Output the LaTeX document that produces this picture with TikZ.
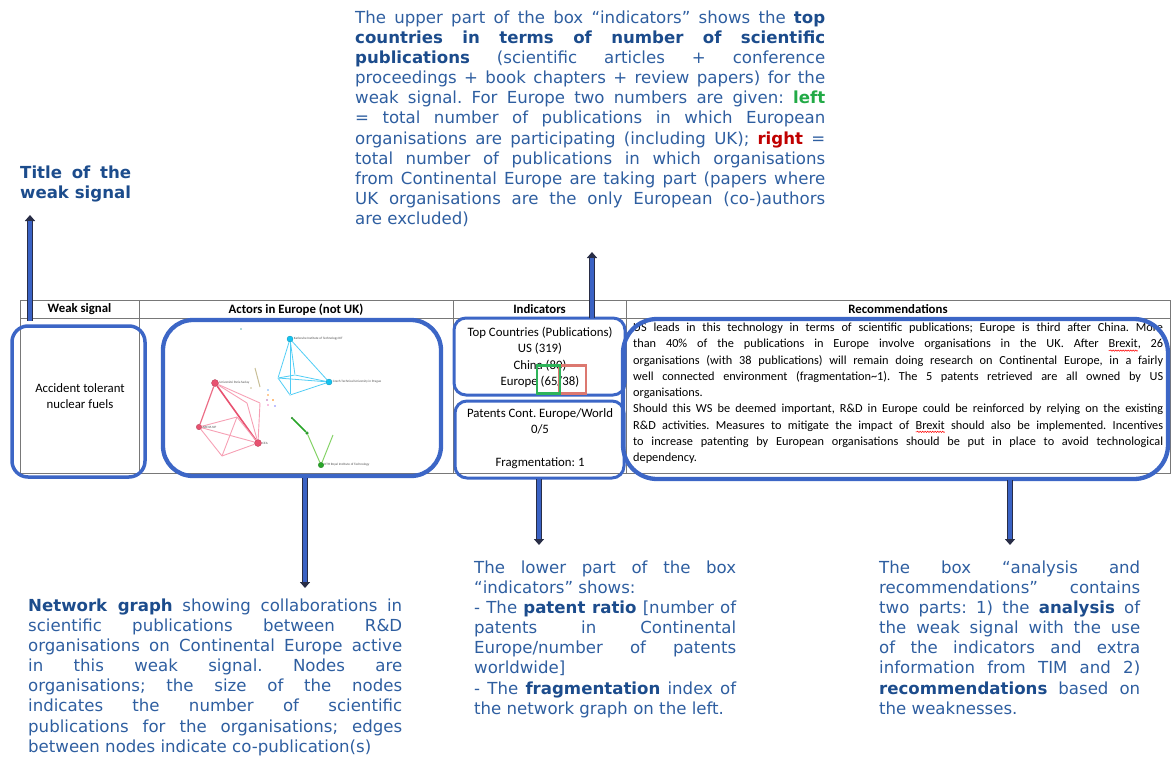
\documentclass[tikz,border=0pt]{standalone}
\usepackage{fontspec}
\setmainfont{DejaVu Sans}
\newfontfamily\tabfont{Carlito}
\usetikzlibrary{arrows.meta,decorations.pathmorphing}
\definecolor{anntext}{RGB}{46,94,160}
\definecolor{annbold}{RGB}{28,76,140}
\definecolor{boxblue}{RGB}{60,102,198}
\definecolor{arrblue}{RGB}{58,98,196}
\definecolor{arrdark}{RGB}{40,45,70}
\definecolor{leftgreen}{RGB}{34,170,70}
\definecolor{rightred}{RGB}{192,0,0}
\definecolor{tline}{RGB}{120,120,120}
\definecolor{netred}{RGB}{232,82,112}
\definecolor{netpink}{RGB}{246,160,180}
\definecolor{netcyan}{RGB}{20,195,240}
\definecolor{netcyanl}{RGB}{80,205,245}
\definecolor{netgreen}{RGB}{40,165,40}
\definecolor{netgreenl}{RGB}{130,210,100}
\definecolor{nettan}{RGB}{200,190,150}
\definecolor{eugreen}{RGB}{46,180,90}
\definecolor{eured}{RGB}{220,120,112}
\newcommand\hl[1]{\textbf{\color{annbold}#1}}
\newlength\wavelen
\newcommand\redwave[1]{\settowidth\wavelen{#1}#1\tikz[overlay,baseline=0pt]\draw[spell] (0pt,-2.6pt) -- ++(-\wavelen,0pt);}
\tikzset{
  ann/.style={anchor=north west, inner sep=0pt, align=justify, text=anntext,
    font=\fontsize{16.6}{20.15}\selectfont},
  tablebox/.style={draw=tline, line width=0.8pt},
  hdr/.style={inner sep=0pt, font=\tabfont\bfseries\fontsize{12.8}{15}\selectfont},
  cell/.style={inner sep=0pt, align=center, font=\tabfont\fontsize{12.8}{16.4}\selectfont},
  hbox/.style={draw=boxblue, line width=3.5pt, rounded corners=#1, inner sep=0pt},
  hbox/.default=14pt,
  eubox/.style={draw=#1, line width=2.6pt, inner sep=0pt, minimum height=28pt},
  arrowout/.style={draw=arrdark, line width=5.8pt, -{Triangle[length=6pt,width=10pt]}},
  arrowin/.style={draw=arrblue, line width=3.6pt, shorten >=6pt},
  nd/.style={circle, fill=#1, draw=#1!75!black, line width=0.3pt, inner sep=0pt},
  dot/.style={circle, fill=#1, inner sep=0pt, minimum size=1.6pt},
  lab/.style={anchor=west, inner sep=0.6pt, text=black!70, font=\tabfont\fontsize{3.3}{4}\selectfont},
  redE/.style={draw=netpink, line width=0.9pt},
  cyanE/.style={draw=netcyanl, line width=0.8pt},
  spell/.style={draw=red, line width=0.5pt, decorate, decoration={snake, amplitude=0.7pt, segment length=2.5pt}},
}
\newcommand\barrow[2]{\draw[arrowout] (#1) -- (#2); \draw[arrowin] (#1) -- (#2);}
\begin{document}
\frenchspacing
\begin{tikzpicture}[x=1pt,y=-1pt]
\useasboundingbox (0,0) rectangle (1171,758);

% ---------- table ----------
\draw[tablebox] (20,300) -- (1171,300);
\draw[tablebox] (20,318) -- (1171,318);
\draw[tablebox] (20,473) -- (1171,473);
\foreach \xx in {20,139,453,626,1170} \draw[tablebox] (\xx,300) -- (\xx,473);

\node[hdr] (h1) at (79.5,309.5) {Weak signal};
\node[hdr] (h2) at (296,309.5) {Actors in Europe (not UK)};
\node[hdr] (h3) at (539.5,309.5) {Indicators};
\node[hdr] (h4) at (898,309.5) {Recommendations};

\node[cell] (ws) at (80,396) {Accident tolerant\\nuclear fuels};

\node[cell] (ind1) at (540,357.5)
  {Top Countries (Publications)\\US (319)\\China (80)\\Europe (65/38)};
\node[cell] (ind2) at (540,438.5)
  {Patents Cont. Europe/World\\0/5\\ \\Fragmentation: 1};

\node[anchor=north west, inner sep=0pt, text width=530pt, align=justify,
      font=\tabfont\fontsize{12.3}{16.25}\selectfont] (rec) at (633,323)
{US leads in this technology in terms of scientific publications; Europe is third after China. More\linebreak
than 40\% of the publications in Europe involve organisations in the UK. After \redwave{Brexit}, 26\linebreak
organisations (with 38 publications) will remain doing research on Continental Europe, in a fairly\linebreak
well connected environment (fragmentation\textasciitilde 1). The 5 patents retrieved are all owned by US\linebreak
organisations.\\
Should this WS be deemed important, R\&D in Europe could be reinforced by relying on the existing\linebreak
R\&D activities. Measures to mitigate the impact of \redwave{Brexit} should also be implemented. Incentives\linebreak
to increase patenting by European organisations should be put in place to avoid technological\linebreak
dependency.};

% ---------- network graph ----------
\node[nd=netcyan, minimum size=6pt] (kit) at (290,339) {};
\node[nd=netcyan, minimum size=6pt] (cz) at (329,382) {};
\node[dot=netcyan, minimum size=1pt] (c1) at (278,378) {};
\node[dot=netcyan, minimum size=1pt] (c2) at (295,375) {};
\node[dot=netcyan, minimum size=1pt] (c3) at (290,395) {};
\draw[cyanE] (kit) -- (c1); \draw[cyanE] (kit) -- (c3); \draw[cyanE] (kit) -- (c2);
\draw[cyanE] (kit) -- (cz); \draw[cyanE] (c1) -- (cz); \draw[cyanE] (c1) -- (c2);
\draw[cyanE] (c1) -- (c3); \draw[cyanE] (c2) -- (cz); \draw[cyanE] (c3) -- (cz);
\node[lab] (kitl) at (kit.east) {Karlsruhe Institute of Technology KIT};
\node[lab] (czl) at (cz.east) {Czech Technical University in Prague};

\node[nd=netred, minimum size=7pt] (ps) at (215,383) {};
\node[nd=netred, minimum size=5.5pt] (ar) at (199,427) {};
\node[nd=netred, minimum size=7pt] (cea) at (258,443) {};
\coordinate (r1) at (247,403);
\coordinate (r2) at (260,403);
\coordinate (r3) at (237,417);
\coordinate (r4) at (222,456);
\draw[draw=netred, line width=1.6pt] (ps) -- (cea);
\draw[draw=netred!85, line width=1.2pt] (ps) -- (ar);
\draw[redE] (ps) -- (r1); \draw[redE] (ps) -- (r2);
\draw[redE] (r1) -- (cea); \draw[redE] (r2) -- (cea);
\draw[redE] (ar) -- (r3); \draw[redE] (ar) -- (cea); \draw[redE] (ar) -- (r4);
\draw[redE] (r3) -- (r4); \draw[redE] (r3) -- (cea); \draw[redE] (r4) -- (cea);
\node[lab] (psl) at (ps.east) {Université Paris-Saclay};
\node[lab] (arl) at (ar.east) {AREVA NP};
\node[lab] (ceal) at (cea.east) {CEA};

\node[nd=netgreen, minimum size=2pt] (g1) at (292,418) {};
\node[nd=netgreen, minimum size=3pt] (g2) at (307,433) {};
\node[nd=netgreen, minimum size=5.5pt] (kth) at (321,465) {};
\coordinate (g3) at (333,435);
\draw[draw=netgreen, line width=1.5pt] (g1) -- (g2);
\draw[draw=netgreenl, line width=1pt] (g2) -- (kth);
\draw[draw=netgreenl, line width=1pt] (kth) -- (g3);
\node[lab] (kthl) at (kth.east) {KTH Royal Institute of Technology};

\coordinate (b1) at (255,368);
\coordinate (b2) at (260,387);
\draw[draw=nettan, line width=1pt] (b1) -- (b2);
\node[dot=nettan] (b3) at (251,388) {};
\node[dot=netcyan!60!blue!60] (d1) at (268,390) {};
\node[dot=orange!80] (d2) at (268,395) {};
\node[dot=violet!60] (d3) at (267,400) {};
\node[dot=orange] (d4) at (273,400) {};
\node[dot=magenta!50] (d5) at (268,405) {};
\node[dot=blue!50] (d6) at (275,406) {};
\node[dot=teal!60] (d7) at (241,329) {};

% ---------- highlight boxes ----------
\node[hbox=16pt, minimum width=133pt, minimum height=151pt] (wsbox) at (78.5,401.5) {};
\node[hbox=30pt, line width=4.3pt, minimum width=278pt, minimum height=156pt] (actbox) at (302,398) {};
\node[hbox=12pt, line width=3pt, minimum width=171pt, minimum height=77pt] (indtop) at (539.5,356.5) {};
\node[hbox=12pt, line width=3pt, minimum width=169pt, minimum height=77pt] (indbot) at (539.5,439.5) {};
\node[hbox=34pt, line width=4.3pt, minimum width=545pt, minimum height=160pt] (recbox) at (895.5,399) {};
\node[eubox=eured, minimum width=27pt] (eur) at (572.5,379.5) {};
\node[eubox=eugreen, minimum width=23pt] (eug) at (548.5,379.5) {};

% ---------- annotations ----------
\node[ann, text width=111pt] (title) at (20,165.4)
  {\hl{Title of the}\linebreak \hl{weak signal}};

\node[ann, text width=470pt] (topnote) at (355,10.4)
{The upper part of the box “indicators” shows the \hl{top}\linebreak
\hl{countries in terms of number of scientific}\linebreak
\hl{publications} (scientific articles + conference\linebreak
proceedings + book chapters + review papers) for the\linebreak
weak signal. For Europe two numbers are given: {\bfseries\color{leftgreen}left}\linebreak
= total number of publications in which European\linebreak
organisations are participating (including UK); {\bfseries\color{rightred}right} =\linebreak
total number of publications in which organisations\linebreak
from Continental Europe are taking part (papers where\linebreak
UK organisations are the only European (co-)authors\linebreak
are excluded)};

\node[ann, text width=374pt] (netnote) at (28,598.4)
{\hl{Network graph} showing collaborations in\linebreak
scientific publications between R\&D\linebreak
organisations on Continental Europe active\linebreak
in this weak signal. Nodes are\linebreak
organisations; the size of the nodes\linebreak
indicates the number of scientific\linebreak
publications for the organisations; edges\linebreak
between nodes indicate co-publication(s)};

\node[ann, text width=262pt] (lownote) at (474,560.4)
{The lower part of the box\linebreak
“indicators” shows:\\
-{} The \hl{patent ratio} [number of\linebreak
patents in Continental\linebreak
Europe/number of patents\linebreak
worldwide]\\
-{} The \hl{fragmentation} index of\linebreak
the network graph on the left.};

\node[ann, text width=261pt] (recnote) at (879,560.4)
{The box “analysis and\linebreak
recommendations” contains\linebreak
two parts: 1) the \hl{analysis} of\linebreak
the weak signal with the use\linebreak
of the indicators and extra\linebreak
information from TIM and 2)\linebreak
\hl{recommendations} based on\linebreak
the weaknesses.};

% ---------- arrows ----------
\coordinate (a1s) at (30,321);   \coordinate (a1e) at (30,215);
\coordinate (a2s) at (592,318);  \coordinate (a2e) at (592,252);
\coordinate (a3s) at (305,478);  \coordinate (a3e) at (305,588);
\coordinate (a4s) at (539,479);  \coordinate (a4e) at (539,545);
\coordinate (a5s) at (1010,480); \coordinate (a5e) at (1010,545);
\barrow{a1s}{a1e}
\barrow{a2s}{a2e}
\barrow{a3s}{a3e}
\barrow{a4s}{a4e}
\barrow{a5s}{a5e}
\end{tikzpicture}
\end{document}
